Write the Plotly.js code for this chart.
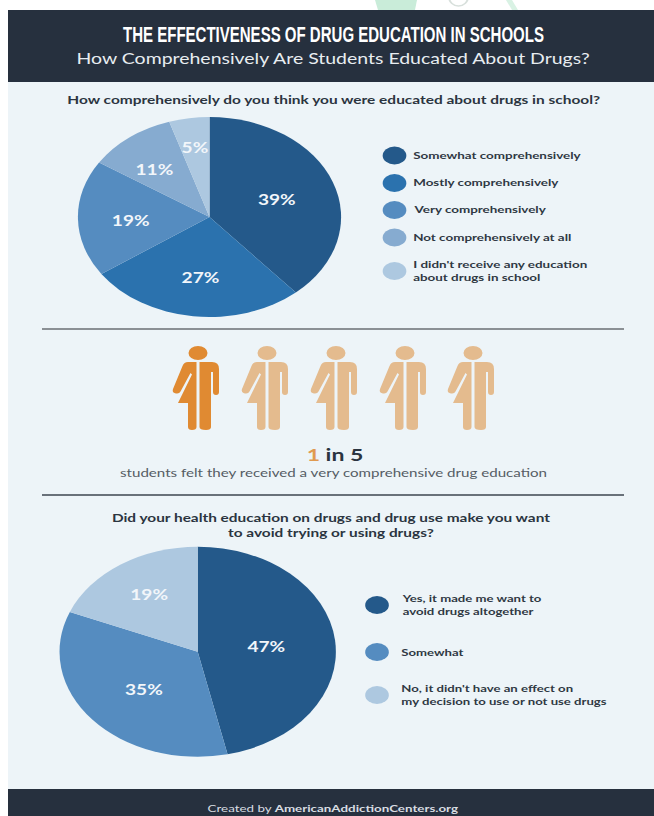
<!DOCTYPE html>
<html><head><meta charset="utf-8">
<script src="https://cdn.plot.ly/plotly-3.0.1.min.js"></script>
<style>html,body{margin:0;padding:0;background:#fff;overflow:hidden;width:654px;height:816px}
#g{width:497px;height:816px;transform-origin:0 0;transform:scaleX(1.31590)}</style>
</head><body><div id="g"></div>
<script>
const titleText = "THE EFFECTIVENESS OF DRUG EDUCATION IN SCHOOLS";
const subtitleText = "How Comprehensively Are Students Educated About Drugs?";
const question1 = "How comprehensively do you think you were educated about drugs in school?";
const labels1 = ["Somewhat comprehensively","Mostly comprehensively","Very comprehensively","Not comprehensively at all","I didn't receive any education<br>about drugs in school"];
const values1 = [39,27,19,11,5];
const colors1 = ["#24598a","#2b72ae","#558cc0","#86abd0","#adc8e0"];
const question2 = "Did your health education on drugs and drug use make you want<br>to avoid trying or using drugs?";
const labels2 = ["Yes, it made me want to<br>avoid drugs altogether","Somewhat","No, it didn't have an effect on<br>my decision to use or not use drugs"];
const values2 = [47,35,19];
const colors2 = ["#24598a","#558cc0","#adc8e0"];
const peopleTotal = 5, peopleHighlighted = 1;
const calloutText = "students felt they received a very comprehensive drug education";
const footerPrefix = "Created by ", footerSite = "AmericanAddictionCenters.org";

const W=654,H=816,K=654/497,LATO="Lato, 'Open Sans', sans-serif";
const domain=(cx,cy,rx,ry)=>({x:[(cx-rx)/W,(cx+rx)/W],y:[1-(cy+ry)/H,1-(cy-ry)/H]});
const pie=(labels,values,colors,dom)=>({type:'pie',labels:labels.map(s=>s.replace('<br>',' ')),values,sort:false,direction:'clockwise',rotation:0,
  marker:{colors,line:{width:0}},textinfo:'none',hoverinfo:'label+percent',domain:dom,showlegend:false});
const ann=(x,y,text,size,color,extra)=>Object.assign({xref:'x',yref:'y',x,y,text,showarrow:false,align:'center',xanchor:'center',yanchor:'middle',borderpad:0,
  font:{family:LATO,size,color}},extra||{});

const leg1X=394.5, leg1Y=[154.5,182,209,236.5,270], leg1T=412;
const leg2X=377, leg2Y=[604.5,651.5,694.5], leg2T=400;
const pct1=[[277,199],[201,277],[131,220],[154,169],[195,147]];
const pct2=[[266,646],[144,689],[150,594]];
const peopleX=[198,267,336,405,473];

const personPath=c=>{const P=(x,y)=>(c+x)+','+y;return [
 'M',P(-1.5,362),'L',P(-10,362),'Q',P(-14,362),P(-15.5,366),'L',P(-25,389),'Q',P(-26,392),P(-23.5,393),'Q',P(-19,394.5),P(-17.5,391.5),
 'L',P(-7.5,373),'L',P(-6,374.5),'L',P(-20,403),'L',P(-10,403),'L',P(-10,427),'Q',P(-10,430),P(-6,430),'Q',P(-1.5,430),P(-1.5,427),'Z',
 'M',P(1.5,362),'L',P(14,362),'Q',P(21,362),P(21,369),'L',P(21,392),'Q',P(21,395),P(18,395),'Q',P(15,395),P(15,392),'L',P(15,372),'L',P(13,372),
 'L',P(13,427),'Q',P(13,430),P(8,430),'Q',P(1.5,430),P(1.5,427),'Z'].join(' ')};

const rect=(x0,y0,x1,y1,fill)=>({type:'rect',xref:'x',yref:'y',x0,y0,x1,y1,fillcolor:fill,line:{width:0},layer:'below'});
const shapes=[rect(8,10,654,816,'#edf4f8'),rect(8,10,654,82,'#26303e'),rect(8,789,654,816,'#26303e'),
 {type:'path',xref:'x',yref:'y',path:'M375,0 L417,0 L415,10 L378,10 Z',fillcolor:'#c9ecd9',line:{width:0},layer:'below'},
 {type:'circle',xref:'x',yref:'y',x0:449,x1:468,y0:-12,y1:6,line:{color:'#d8e0dc',width:1.5},layer:'below'},
 {type:'path',xref:'x',yref:'y',path:'M506,0 L512,0 L518,10 L512,10 Z',fillcolor:'#d9f2e4',line:{width:0},layer:'below'},
 {type:'line',xref:'x',yref:'y',x0:42,x1:624,y0:329,y1:329,line:{color:'#6a6f75',width:1.5}},
 {type:'line',xref:'x',yref:'y',x0:42,x1:624,y0:495,y1:495,line:{color:'#3d4650',width:1.5}}];
peopleX.forEach((c,i)=>{const col=i<peopleHighlighted?'#e08a32':'#e4bb8e';
 shapes.push({type:'path',xref:'x',yref:'y',path:personPath(c),fillcolor:col,line:{width:0}});
 shapes.push({type:'circle',xref:'x',yref:'y',x0:c-9.5,x1:c+9.5,y0:346,y1:360,fillcolor:col,line:{width:0}});});

const annotations=[
 ann(333,34,'<b>'+titleText+'</b>',22,'#ffffff',{font:{family:"'Liberation Sans', sans-serif",size:22,color:'#fff'}}),
 ann(333,57.5,subtitleText,14.8,'#e8edf1'),
 ann(333,99,'<b>'+question1+'</b>',11.75,'#2b3440'),
 ann(332,524,'<b>'+question2+'</b>',11.7,'#2b3440'),
 ann(335,454.5,'<b><span style="color:#e09a50">'+peopleHighlighted+'</span> in '+peopleTotal+'</b>',17.5,'#2b3440'),
 ann(333,472,calloutText,11.5,'#555c64'),
 ann(333,807.5,footerPrefix+'<b>'+footerSite+'</b>',10.15,'#d8dde2')];
values1.forEach((v,i)=>annotations.push(ann(pct1[i][0],pct1[i][1],'<b>'+v+'%</b>',14.5,'#f2f6fa')));
values2.forEach((v,i)=>annotations.push(ann(pct2[i][0],pct2[i][1],'<b>'+v+'%</b>',14.5,'#f2f6fa')));
labels1.forEach((t,i)=>annotations.push(ann(leg1T,leg1Y[i],'<b>'+t+'</b>',10.2,'#2f3843',{xanchor:'left',align:'left'})));
labels2.forEach((t,i)=>annotations.push(ann(leg2T,leg2Y[i],'<b>'+t+'</b>',10,'#2f3843',{xanchor:'left',align:'left'})));

const legendDots=(x,ys,cols)=>({type:'scatter',mode:'markers',x:ys.map(()=>x),y:ys,marker:{size:18,color:cols,line:{width:0}},hoverinfo:'skip',showlegend:false,cliponaxis:false});

Plotly.newPlot('g',[
 pie(labels1,values1,colors1,domain(209.5,217,131.6,100)),
 pie(labels2,values2,colors2,domain(197.7,651.7,138.2,105)),
 legendDots(leg1X,leg1Y.map(y=>y+1),colors1),legendDots(leg2X,leg2Y.map(y=>y+0.5),colors2)
],{width:497,height:816,margin:{l:0,r:0,t:0,b:0,pad:0},paper_bgcolor:'#fff',plot_bgcolor:'rgba(0,0,0,0)',showlegend:false,
 xaxis:{range:[0,W],visible:false,fixedrange:true},yaxis:{range:[H,0],visible:false,fixedrange:true},shapes,annotations},
 {displayModeBar:false,responsive:false}).then(gd=>{
  // The reference's headline is set in a tall condensed face: squeeze it to its measured width.
  const t=[...gd.querySelectorAll('.annotation-text')].find(e=>e.textContent===titleText);
  if(t){const f=(421/K)/t.getBBox().width;
    t.style.transformBox='fill-box';t.style.transformOrigin='center';t.style.transform='scaleX('+f+')';}
 });
</script></body></html>
